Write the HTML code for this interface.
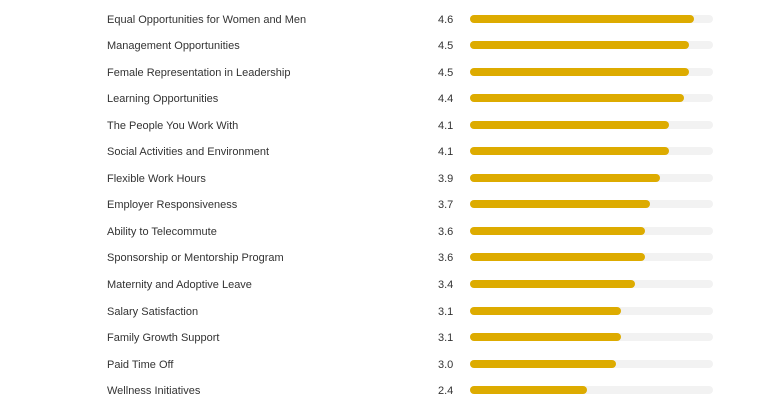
<!DOCTYPE html><html><head><style>
body{margin:0;width:780px;height:408px;background:#fff;font-family:"Liberation Sans",sans-serif;font-size:11px;color:#333;position:relative;overflow:hidden}
.r{position:absolute;left:0;width:780px;height:16px}
.l{position:absolute;left:107px;top:1px;line-height:16px}
.v{position:absolute;left:438px;top:1px;line-height:16px}
.t{position:absolute;left:470px;top:4px;width:243px;height:8px;border-radius:4px;background:#f2f2f2}
.b{position:absolute;left:0;top:0;height:8px;border-radius:4px;background:#ddab00}
</style></head><body>
<script>
var d=[["Equal Opportunities for Women and Men",4.6],["Management Opportunities",4.5],["Female Representation in Leadership",4.5],["Learning Opportunities",4.4],["The People You Work With",4.1],["Social Activities and Environment",4.1],["Flexible Work Hours",3.9],["Employer Responsiveness",3.7],["Ability to Telecommute",3.6],["Sponsorship or Mentorship Program",3.6],["Maternity and Adoptive Leave",3.4],["Salary Satisfaction",3.1],["Family Growth Support",3.1],["Paid Time Off",3.0],["Wellness Initiatives",2.4]];
d.forEach(function(x,i){var y=18.5+i*26.55-8;document.write('<div class="r" style="top:'+y+'px"><span class="l">'+x[0]+'</span><span class="v">'+x[1].toFixed(1)+'</span><div class="t"><div class="b" style="width:'+(x[1]/5*243)+'px"></div></div></div>');});
</script>
</body></html>
